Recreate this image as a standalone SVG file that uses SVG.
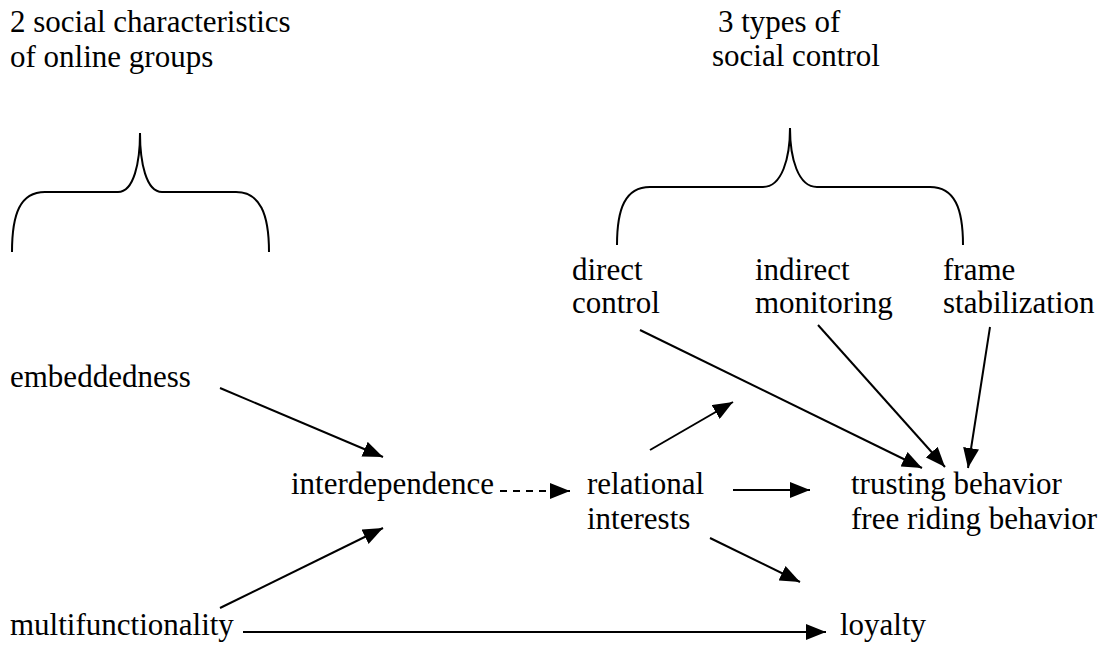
<svg xmlns="http://www.w3.org/2000/svg" width="1107" height="650" viewBox="0 0 1107 650" font-family="'Liberation Serif', 'Times New Roman', Times, serif" font-size="31">
<style>
.t{font-family:'Liberation Serif','Times New Roman',Times,serif;font-size:31px;fill:#000}
.c{stroke:#000;stroke-width:2;fill:none}
.d{stroke-dasharray:7,6}
</style>
<defs>
<marker id="ah" markerUnits="userSpaceOnUse" markerWidth="20" markerHeight="16" refX="20" refY="8" orient="auto"><path d="M0,0 L20,8 L0,16 z" fill="#000"/></marker>
</defs>
<rect width="1107" height="650" fill="#fff"/>
<g id="title-left" class="t"><text x="10" y="32">2 social characteristics</text><text x="10" y="67">of online groups</text></g>
<g id="title-right" class="t"><text x="718" y="32">3 types of</text><text x="712" y="66">social control</text></g>
<g id="braces" class="c">
<path d="M12,252 C12,214 20,192 45,192 L118,192 C134,192 140,162 140,133 C140,162 146,192 162,192 L236,192 C260,192 269,214 269,252"/>
<path d="M617,245 C617,209 625,187 650,187 L763,187 C782,187 790,158 790,128 C790,158 798,187 817,187 L930,187 C955,187 963,209 963,245"/>
</g>
<g id="direct-control" class="t"><text x="572" y="280">direct</text><text x="572" y="313">control</text></g>
<g id="indirect-monitoring" class="t"><text x="755" y="280">indirect</text><text x="755" y="313">monitoring</text></g>
<g id="frame-stabilization" class="t"><text x="943" y="280">frame</text><text x="943" y="313">stabilization</text></g>
<g id="embeddedness" class="t"><text x="10" y="387">embeddedness</text></g>
<g id="interdependence" class="t"><text x="291" y="494">interdependence</text></g>
<g id="relational-interests" class="t"><text x="587" y="494">relational</text><text x="587" y="529">interests</text></g>
<g id="behavior" class="t"><text x="851" y="494">trusting behavior</text><text x="851" y="529">free riding behavior</text></g>
<g id="multifunctionality" class="t"><text x="10" y="635">multifunctionality</text></g>
<g id="loyalty" class="t"><text x="840" y="635">loyalty</text></g>
<g id="connectors" class="c">
<line x1="220" y1="388" x2="383" y2="457" marker-end="url(#ah)"/>
<line x1="220" y1="608" x2="383" y2="528" marker-end="url(#ah)"/>
<line class="d" x1="500" y1="491" x2="570" y2="491" marker-end="url(#ah)"/>
<line x1="650" y1="450" x2="733" y2="402" marker-end="url(#ah)"/>
<line x1="733" y1="490" x2="810" y2="490" marker-end="url(#ah)"/>
<line x1="640" y1="330" x2="922" y2="468" marker-end="url(#ah)"/>
<line x1="818" y1="325" x2="945" y2="467" marker-end="url(#ah)"/>
<line x1="990" y1="327" x2="968" y2="468" marker-end="url(#ah)"/>
<line x1="710" y1="538" x2="800" y2="582" marker-end="url(#ah)"/>
<line x1="243" y1="632" x2="826" y2="632" marker-end="url(#ah)"/>
</g>
</svg>
